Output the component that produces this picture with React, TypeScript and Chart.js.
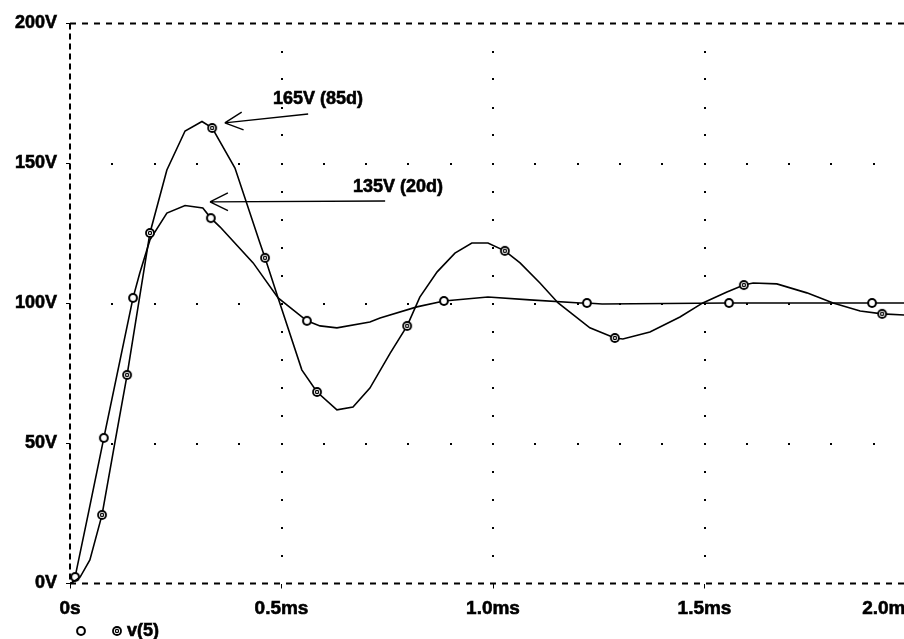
import { useEffect, useRef } from 'react';
import { Chart, registerables } from 'chart.js';

Chart.register(...registerables);

// Step response of v(5) for two damping settings (time in ms, volts)
const timeA = [0, 0.007, 0.024, 0.047, 0.0757, 0.106, 0.135, 0.189, 0.229, 0.272, 0.312, 0.336, 0.39, 0.449, 0.461, 0.492, 0.548, 0.584, 0.631, 0.669, 0.709, 0.757, 0.797, 0.827, 0.868, 0.91, 0.95, 0.988, 1.028, 1.064, 1.111, 1.154, 1.229, 1.288, 1.307, 1.371, 1.442, 1.496, 1.553, 1.593, 1.615, 1.671, 1.742, 1.804, 1.868, 1.92, 1.972, 2.0];
const voltA = [0, 0.5, 2.3, 8.4, 24.5, 50.2, 74.5, 125.2, 147.7, 161.6, 165.0, 162.7, 148.4, 121.6, 116.3, 102.0, 76.3, 68.4, 62.0, 63.0, 69.8, 82.3, 92.0, 102.3, 111.3, 118.0, 121.6, 121.6, 118.8, 114.5, 107.3, 100.2, 91.3, 87.7, 87.3, 89.8, 95.2, 100.2, 104.1, 106.6, 107.3, 107.0, 103.8, 100.2, 97.3, 96.3, 95.9, 95.9];
const markIdxA = [4, 6, 7, 11, 14, 17, 22, 28, 33, 39, 45];

const timeB = [0, 0.005, 0.012, 0.043, 0.08, 0.149, 0.165, 0.189, 0.229, 0.272, 0.314, 0.333, 0.355, 0.433, 0.492, 0.56, 0.591, 0.631, 0.709, 0.733, 0.82, 0.884, 0.988, 1.087, 1.206, 1.222, 1.258, 1.558, 1.896, 2.0];
const voltB = [0, 0.2, 2.3, 24.8, 52.0, 102.0, 110.9, 122.7, 132.3, 135.0, 134.1, 130.5, 127.3, 114.5, 102.0, 93.8, 92.0, 91.3, 93.4, 94.8, 98.8, 100.9, 102.3, 101.3, 100.2, 100.2, 99.8, 100.2, 100.2, 100.2];
const markIdxB = [2, 4, 5, 11, 15, 21, 25, 27, 28];

const yTickValues = [0, 50, 100, 150, 200];
const xTickValues = [0, 0.5, 1.0, 1.5, 2.0];
const xTickLabels = ['0s', '0.5ms', '1.0ms', '1.5ms', '2.0ms'];
const legendLabels = ['', 'v(5)'];

// Peak call-outs: text, arrow tip, arrow tail, text anchor (ms, V)
const noteText = ['165V (85d)', '135V (20d)'];
const noteTipT = [0.366, 0.331];
const noteTipV = [164.5, 136.3];
const noteTailT = [0.563, 0.745];
const noteTailV = [167.7, 136.6];
const noteTextT = [0.48, 0.669];
const noteTextV = [172.9, 141.6];

const FONT = '"Liberation Sans", Arial, Helvetica, sans-serif';

function makeMarker(double: boolean): HTMLCanvasElement {
  const c = document.createElement('canvas');
  c.width = 12;
  c.height = 12;
  const g = c.getContext('2d')!;
  const disk = (r: number, col: string) => {
    g.beginPath();
    g.arc(6, 6, r, 0, Math.PI * 2);
    g.fillStyle = col;
    g.fill();
  };
  disk(4.9, '#000');
  if (double) {
    disk(3.1, '#fff');
    disk(2.2, '#000');
    disk(1.0, '#fff');
  } else {
    disk(2.9, '#fff');
  }
  return c;
}

// Bold text with a thin outline to give the heavy plotter look
function heavyText(ctx: CanvasRenderingContext2D, s: string, x: number, y: number) {
  ctx.strokeText(s, x, y);
  ctx.fillText(s, x, y);
}

export default function App() {
  const ref = useRef<HTMLCanvasElement>(null);

  useEffect(() => {
    const canvas = ref.current;
    if (!canvas) return;
    const openMark = makeMarker(false);
    const dblMark = makeMarker(true);

    const framePlugin = {
      id: 'probeFrame',
      beforeDatasetsDraw(chart: any) {
        const { ctx, chartArea: a, scales } = chart;
        const x = scales.x;
        const y = scales.y;
        ctx.save();
        ctx.fillStyle = '#000';
        // dotted grid along the major lines
        for (const t of [0.5, 1.0, 1.5]) {
          const px = Math.round(x.getPixelForValue(t));
          for (let v = 10; v < 200; v += 10) {
            const py = Math.round(y.getPixelForValue(v));
            ctx.fillRect(px - 1, py - 1, 2, 2);
          }
        }
        for (const v of [50, 100, 150]) {
          const py = Math.round(y.getPixelForValue(v));
          for (let k = 1; k < 20; k++) {
            const px = Math.round(x.getPixelForValue(k * 0.1));
            ctx.fillRect(px - 1, py - 1, 2, 2);
          }
        }
        // dashed frame
        ctx.strokeStyle = '#000';
        ctx.lineWidth = 2;
        ctx.setLineDash([6, 6]);
        ctx.beginPath();
        ctx.moveTo(a.left, a.top);
        ctx.lineTo(a.right, a.top);
        ctx.moveTo(a.left, a.bottom);
        ctx.lineTo(a.right, a.bottom);
        ctx.stroke();
        ctx.setLineDash([6, 4]);
        ctx.beginPath();
        ctx.moveTo(a.left, a.top);
        ctx.lineTo(a.left, a.bottom);
        ctx.moveTo(a.right, a.top);
        ctx.lineTo(a.right, a.bottom);
        ctx.stroke();
        ctx.restore();
      },
      afterDraw(chart: any) {
        const { ctx, chartArea: a, scales } = chart;
        const x = scales.x;
        const y = scales.y;
        ctx.save();
        ctx.fillStyle = '#000';
        ctx.strokeStyle = '#000';
        ctx.textBaseline = 'middle';
        ctx.lineWidth = 0.6;
        // time axis labels
        ctx.font = `bold 19px ${FONT}`;
        xTickValues.forEach((t, i) => {
          const last = i === xTickValues.length - 1;
          ctx.textAlign = last ? 'right' : 'center';
          const px = last ? a.right : x.getPixelForValue(t);
          heavyText(ctx, xTickLabels[i], px, a.bottom + 25);
        });
        ctx.font = `bold 18px ${FONT}`;
        // call-outs
        noteText.forEach((txt, i) => {
          const tx = x.getPixelForValue(noteTipT[i]);
          const ty = y.getPixelForValue(noteTipV[i]);
          const sx = x.getPixelForValue(noteTailT[i]);
          const sy = y.getPixelForValue(noteTailV[i]);
          const ang = Math.atan2(sy - ty, sx - tx);
          ctx.lineWidth = 1.4;
          ctx.beginPath();
          ctx.moveTo(sx, sy);
          ctx.lineTo(tx, ty);
          for (const d of [-0.46, 0.46]) {
            ctx.moveTo(tx, ty);
            ctx.lineTo(tx + 20 * Math.cos(ang + d), ty + 20 * Math.sin(ang + d));
          }
          ctx.stroke();
          ctx.lineWidth = 0.6;
          ctx.textAlign = 'left';
          heavyText(ctx, txt, x.getPixelForValue(noteTextT[i]), y.getPixelForValue(noteTextV[i]));
        });
        // legend below the axis
        const ly = a.bottom + 47.5;
        ctx.drawImage(openMark, a.left + 11 - 6, ly - 6);
        ctx.drawImage(dblMark, a.left + 47 - 6, ly - 6);
        ctx.textAlign = 'left';
        if (legendLabels[0]) heavyText(ctx, legendLabels[0], a.left + 20, ly);
        heavyText(ctx, legendLabels[1], a.left + 57, ly);
        ctx.restore();
      },
    };

    const pts = (ts: number[], vs: number[]) => ts.map((t, i) => ({ x: t, y: vs[i] }));

    const chart = new Chart(canvas, {
      type: 'line',
      data: {
        datasets: [
          {
            label: legendLabels[1],
            data: pts(timeA, voltA),
            borderColor: '#000',
            borderWidth: 1.6,
            tension: 0,
            pointStyle: dblMark as any,
            pointRadius: (c: any) => (markIdxA.includes(c.dataIndex) ? 5 : 0),
          },
          {
            label: legendLabels[0],
            data: pts(timeB, voltB),
            borderColor: '#000',
            borderWidth: 1.6,
            tension: 0,
            pointStyle: openMark as any,
            pointRadius: (c: any) => (markIdxB.includes(c.dataIndex) ? 5 : 0),
          },
        ],
      },
      options: {
        responsive: false,
        animation: false,
        devicePixelRatio: 1,
        layout: { padding: { top: 23.5, right: 0, left: 0, bottom: 0 } },
        plugins: { legend: { display: false }, tooltip: { enabled: false } },
        scales: {
          x: {
            type: 'linear',
            min: 0,
            max: 2,
            afterBuildTicks: (s: any) => {
              s.ticks = xTickValues.map((v) => ({ value: v }));
            },
            afterFit: (s: any) => {
              s.height = 55.5;
            },
            ticks: { display: false },
            grid: { drawOnChartArea: false, drawTicks: true, tickLength: 5, color: '#000', lineWidth: 1 },
            border: { display: false },
          },
          y: {
            type: 'linear',
            min: 0,
            max: 200,
            afterBuildTicks: (s: any) => {
              s.ticks = yTickValues.map((v) => ({ value: v }));
            },
            afterFit: (s: any) => {
              s.width = 70;
            },
            ticks: {
              callback: (v: any) => `${v}V`,
              color: '#000',
              padding: 9,
              textStrokeColor: '#000',
              textStrokeWidth: 0.6,
              font: { family: FONT, size: 18, weight: 'bold' },
            },
            grid: { drawOnChartArea: false, drawTicks: true, tickLength: 4, color: '#000', lineWidth: 1 },
            border: { display: false },
          },
        },
      } as any,
      plugins: [framePlugin],
    });
    return () => chart.destroy();
  }, []);

  return (
    <div style={{ position: 'fixed', left: 0, top: 0, width: 904, height: 639, overflow: 'hidden', background: '#fff' }}>
      <canvas ref={ref} width={916} height={639} style={{ display: 'block', width: 916, height: 639 }} />
    </div>
  );
}
